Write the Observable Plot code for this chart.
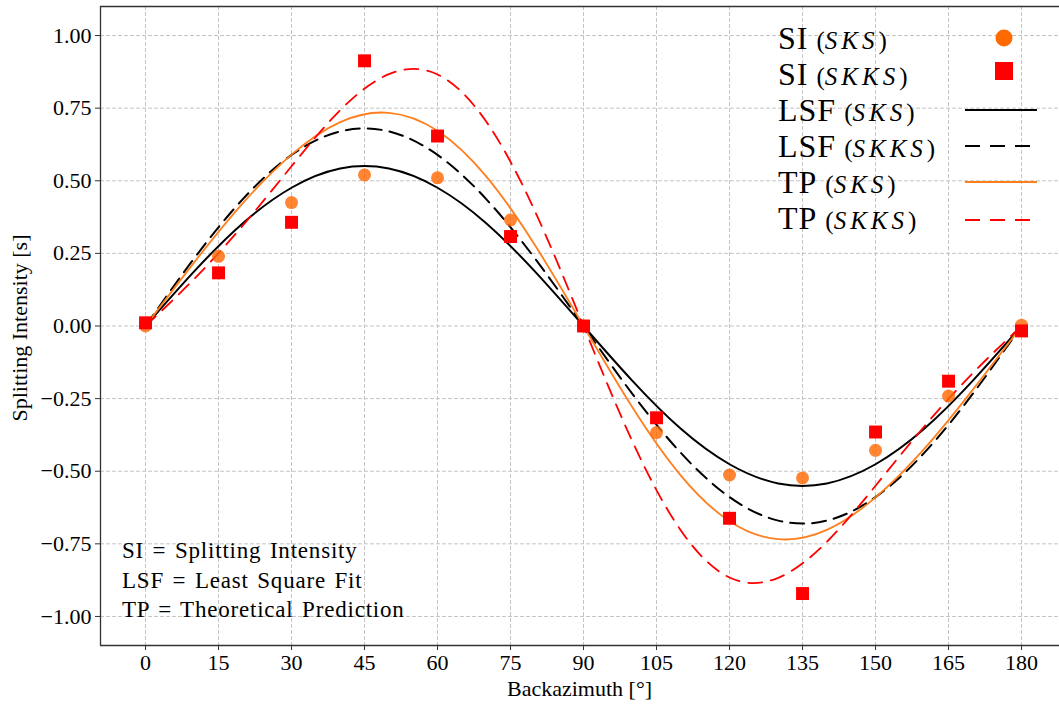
<!DOCTYPE html>
<html><head><meta charset="utf-8">
<script src="https://cdn.jsdelivr.net/npm/d3@7"></script>
<script src="https://cdn.jsdelivr.net/npm/@observablehq/plot@0.6"></script>
<style>
body{margin:0;background:#fff;}
#chart{width:1059px;height:704px;}
</style></head><body><div id="chart"></div>
<script>
// Measured splitting intensity (s) at each backazimuth (deg)
const baz = [0,15,30,45,60,75,90,105,120,135,150,165,180];
const siSKS  = [0.00,0.24,0.425,0.52,0.51,0.365,0.00,-0.367,-0.513,-0.523,-0.428,-0.241,0.003];
const siSKKS = [0.011,0.183,0.357,0.913,0.654,0.308,0.00,-0.316,-0.662,-0.921,-0.365,-0.19,-0.017];
// Curves every 10 deg
const curveBaz = [0,10,20,30,40,50,60,70,80,90,100,110,120,130,140,150,160,170,180];
const lsfSKS  = [0,0.188,0.354,0.476,0.542,0.542,0.476,0.354,0.188,0,-0.188,-0.354,-0.476,-0.542,-0.542,-0.476,-0.354,-0.188,0];
const lsfSKKS = [0,0.233,0.437,0.589,0.670,0.670,0.589,0.437,0.233,0,-0.233,-0.437,-0.589,-0.670,-0.670,-0.589,-0.437,-0.233,0];
const tpSKS   = [0,0.219,0.423,0.590,0.702,0.734,0.672,0.515,0.279,0,-0.279,-0.515,-0.672,-0.734,-0.702,-0.590,-0.423,-0.219,0];
const tpSKKS  = [0,0.162,0.346,0.550,0.743,0.867,0.866,0.704,0.396,0,-0.396,-0.704,-0.866,-0.867,-0.743,-0.550,-0.346,-0.162,0];
const xTicks = [0,15,30,45,60,75,90,105,120,135,150,165,180];
const yTicks = [-1,-0.75,-0.5,-0.25,0,0.25,0.5,0.75,1];
const legendLabels = [["SI","SKS"],["SI","SKKS"],["LSF","SKS"],["LSF","SKKS"],["TP","SKS"],["TP","SKKS"]];
const notes = ["SI = Splitting Intensity","LSF = Least Square Fit","TP = Theoretical Prediction"];

const pts = baz.map((b,i)=>({baz:b, sks:siSKS[i], skks:siSKKS[i]}));
const curves = curveBaz.map((b,i)=>({baz:b, lsfSKS:lsfSKS[i], lsfSKKS:lsfSKKS[i], tpSKS:tpSKS[i], tpSKKS:tpSKKS[i]}));

const FONT = "'Liberation Serif','Times New Roman',serif";
const xDom = [-9.25, 187.8], yDom = [-1.1, 1.1];
const grid = {stroke:"#c4c4c4", strokeOpacity:1, strokeWidth:1, strokeDasharray:"4,2"};

const plot = Plot.plot({
  width:1059, height:704,
  marginLeft:100, marginRight:0, marginTop:6, marginBottom:59,
  style:{fontFamily:FONT, fontSize:"22px", background:"white", color:"black"},
  x:{domain:xDom},
  y:{domain:yDom},
  marks:[
    Plot.gridX(xTicks, grid),
    Plot.gridY(yTicks, grid),
    Plot.ruleX([xDom[0]], {stroke:"#333", strokeWidth:1.3}),
    Plot.ruleY([yDom[0], yDom[1]], {stroke:"#333", strokeWidth:1.3}),
    Plot.axisX(xTicks, {tickSize:5, tickPadding:4, label:null, tickFormat:d=>String(d), stroke:"#333", fontSize:22}),
    Plot.axisY(yTicks, {tickSize:5, tickPadding:4, label:null, tickFormat:d3.format(".2f"), stroke:"#333", fontSize:22}),
    Plot.line(curves, {x:"baz", y:"lsfSKS", curve:"natural", stroke:"black", strokeWidth:2}),
    Plot.line(curves, {x:"baz", y:"lsfSKKS", curve:"natural", stroke:"black", strokeWidth:2, strokeDasharray:"14,8"}),
    Plot.line(curves, {x:"baz", y:"tpSKS", curve:"natural", stroke:"#ff7f1e", strokeWidth:1.8}),
    Plot.line(curves, {x:"baz", y:"tpSKKS", curve:"natural", stroke:"#ff0000", strokeWidth:1.8, strokeDasharray:"14,9"}),
    Plot.dot(pts, {x:"baz", y:"sks", r:6.5, fill:"#ff6600", fillOpacity:0.8, stroke:"none"}),
    Plot.dot(pts, {x:"baz", y:"skks", r:7.3, symbol:"square", fill:"#ff0000", stroke:"none"})
  ]
});
document.getElementById("chart").appendChild(plot);

const svg = d3.select(plot);
// axis labels
svg.append("text").attr("x",579.5).attr("y",696).attr("text-anchor","middle")
  .style("font-family",FONT).style("font-size","22px").text("Backazimuth [°]");
svg.append("text").attr("transform","translate(27,328) rotate(-90)").attr("text-anchor","middle")
  .style("font-family",FONT).style("font-size","22px").text("Splitting Intensity [s]");

// legend
const lg = svg.append("g").attr("text-anchor","start");
const baselines = [49,85,121,157,193,229];
const handleY = [38,71,110,146,182,220];
legendLabels.forEach(([a,b],i)=>{
  const t = lg.append("text").attr("x",778).attr("y",baselines[i]).attr("text-anchor","start").style("font-family",FONT);
  t.append("tspan").style("font-size","32px").style("letter-spacing","1px").text(a);
  t.append("tspan").attr("dx",8).style("font-size","25px").text("(");
  t.append("tspan").style("font-size","25px").style("font-style","italic").style("letter-spacing","4px").text(b);
  t.append("tspan").style("font-size","25px").text(")");
});
lg.append("circle").attr("cx",1004).attr("cy",handleY[0]).attr("r",8.5).attr("fill","#ff6a00");
lg.append("rect").attr("x",995).attr("y",handleY[1]-9).attr("width",18).attr("height",18).attr("fill","#ff0000");
const handles = [
  {stroke:"black", w:2, dash:null},
  {stroke:"black", w:2, dash:"15,10"},
  {stroke:"#ff7f1e", w:1.8, dash:null},
  {stroke:"#ff0000", w:1.8, dash:"15,10"}
];
handles.forEach((h,i)=>{
  const l = lg.append("line").attr("x1",965).attr("x2",1037).attr("y1",handleY[i+2]).attr("y2",handleY[i+2])
    .attr("stroke",h.stroke).attr("stroke-width",h.w);
  if (h.dash) l.attr("stroke-dasharray",h.dash);
});

// notes
const nb = [558,588,617];
notes.forEach((s,i)=>{
  svg.append("text").attr("x",122).attr("y",nb[i]).attr("text-anchor","start")
    .style("font-family",FONT).style("font-size","23px").style("letter-spacing","0.8px").style("word-spacing","2px").text(s);
});
</script></body></html>
